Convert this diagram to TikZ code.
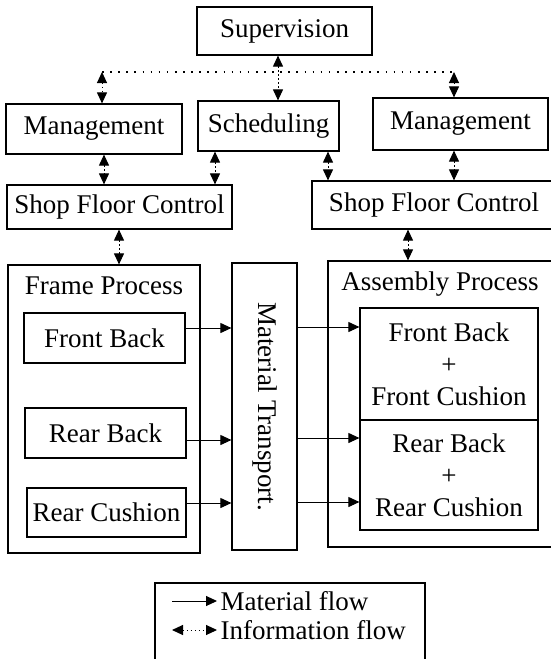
\documentclass[tikz,border=0pt]{standalone}
\usepackage{fontspec}
\setmainfont{Liberation Serif}
\usetikzlibrary{arrows.meta}

\begin{document}
\begin{tikzpicture}[x=1pt, y=-1pt, font=\fontsize{27}{32}\selectfont,
    box/.style={draw, line width=1.2pt, inner sep=0pt, align=center},
    info/.style={line width=1pt, dash pattern=on 1.5pt off 2.5pt,
      {Triangle[length=11pt,width=10pt]}-{Triangle[length=11pt,width=10pt]}},
    bus/.style={line width=1.6pt, dash pattern=on 1.6pt off 6.5pt},
    flow/.style={line width=1pt, -{Triangle[length=11pt,width=10pt]}}]
  \useasboundingbox (0,0) rectangle (550,659);
  % control levels
  \node[box, minimum width=175, minimum height=48] (superv) at (284.5,31) {Supervision};
  \node[box, minimum width=176, minimum height=50] (mgmtL) at (94,129) {Management};
  \node[box, minimum width=141, minimum height=50] (sched) at (268.5,126) {Scheduling};
  \node[box, minimum width=175, minimum height=52] (mgmtR) at (460.5,124) {Management};
  \node[box, minimum width=225, minimum height=44] (sfcL) at (119.5,207) {Shop Floor Control};
  \node[box, minimum width=244, minimum height=48] (sfcR) at (434,205) {Shop Floor Control};
  % frame process (left)
  \node[box, minimum width=192, minimum height=288] (frame) at (104,409) {};
  \node (frameLbl) at (104,286) {Frame Process};
  \node[box, minimum width=161, minimum height=50] (fback) at (104.5,338) {Front Back};
  \node[box, minimum width=161, minimum height=50] (rback) at (105.5,433) {Rear Back};
  \node[box, minimum width=159, minimum height=49] (rcush) at (106.5,512.5) {Rear Cushion};
  % material transport (middle)
  \node[box, minimum width=65, minimum height=287] (transport) at (264.5,406.5) {};
  \node[rotate=-90] (transportLbl) at (transport.center) {Material Transport.};
  % assembly process (right)
  \node[box, minimum width=224, minimum height=286] (assembly) at (440,404) {};
  \node (assemblyLbl) at (440,284) {Assembly Process};
  \node[box, minimum width=178, minimum height=112] (asmF) at (449,364) {Front Back\\+\\Front Cushion};
  \node[box, minimum width=178, minimum height=110] (asmR) at (449,475) {Rear Back\\+\\Rear Cushion};
  % information flow
  \coordinate (busL) at (102,72);
  \coordinate (busR) at (454,72);
  \draw[bus] (busL) -- (busR);
  \draw[info] (busL) -- (busL |- mgmtL.north);
  \draw[info] (busR) -- (busR |- mgmtR.north);
  \draw[info] (278,0 |- superv.south) -- (278,0 |- sched.north);
  \draw[info] (104,0 |- mgmtL.south) -- (104,0 |- sfcL.north);
  \draw[info] (215,0 |- sched.south) -- (215,0 |- sfcL.north);
  \draw[info] (328,0 |- sched.south) -- (328,0 |- sfcR.north);
  \draw[info] (454,0 |- mgmtR.south) -- (454,0 |- sfcR.north);
  \draw[info] (119,0 |- sfcL.south) -- (119,0 |- frame.north);
  \draw[info] (408,0 |- sfcR.south) -- (408,0 |- assembly.north);
  % material flow
  \foreach \y/\src in {328/fback, 440/rback, 503/rcush}
    \draw[flow] (\src.east |- 0,\y) -- (transport.west |- 0,\y);
  \foreach \y/\dst in {327/asmF, 438/asmR, 502/asmR}
    \draw[flow] (transport.east |- 0,\y) -- (\dst.west |- 0,\y);
  % legend
  \node[draw, line width=1.2pt, minimum width=270, minimum height=84, inner sep=0pt] (legend) at (290,625) {};
  \node[anchor=west] (matLbl) at (217,601) {Material flow};
  \coordinate (matStart) at (172,601);
  \draw[flow] (matStart) -- (matLbl.west);
  \node[anchor=west] (infoLbl) at (217,630) {Information flow};
  \coordinate (infoStart) at (172,630);
  \draw[info] (infoStart) -- (infoLbl.west);
\end{tikzpicture}
\end{document}
